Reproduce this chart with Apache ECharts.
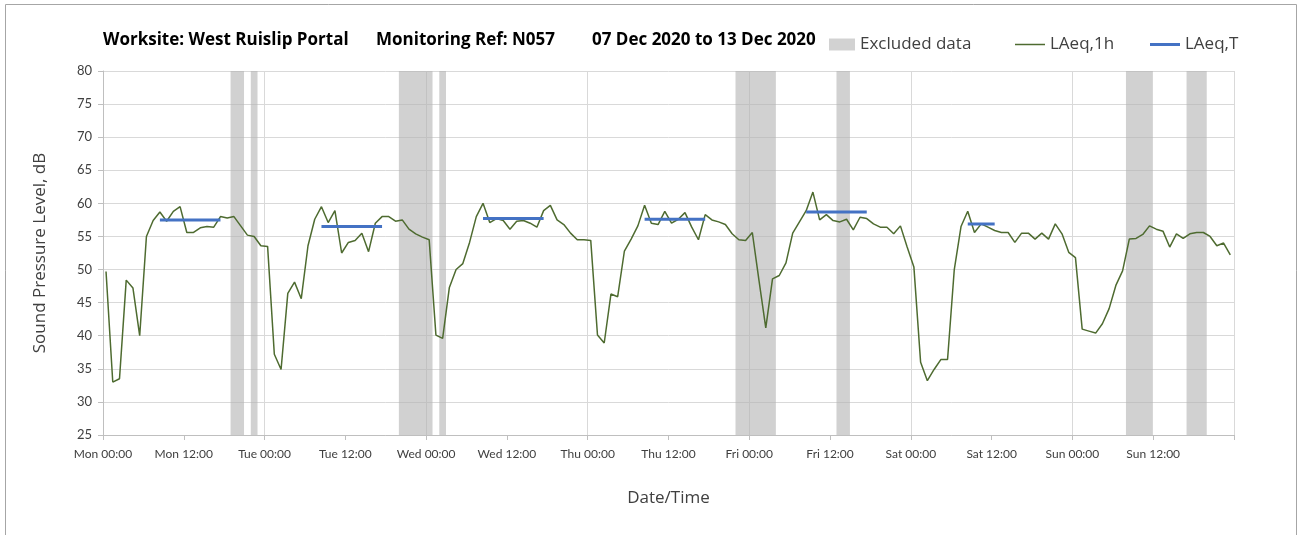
<!DOCTYPE html>
<html><head><meta charset="utf-8">
<script src="https://cdn.jsdelivr.net/npm/echarts@6/dist/echarts.min.js"></script>
<style>html,body{margin:0;padding:0;background:#fff}#c{width:1304px;height:535px}</style>
</head><body><div id="c"></div>
<script>
// x tick labels, every 12 hours from Mon 00:00 (hour 0) to hour 168
const xTickLabels = ['Mon 00:00','Mon 12:00','Tue 00:00','Tue 12:00','Wed 00:00','Wed 12:00','Thu 00:00','Thu 12:00','Fri 00:00','Fri 12:00','Sat 00:00','Sat 12:00','Sun 00:00','Sun 12:00',''];

// LAeq,1h hourly values, hour 0 (Mon 00:00) .. hour 167 (Sun 23:00)
const laeq1h = [
 49.7,33.0,33.5,48.4,47.2,40.0,55.0,57.4,58.7,57.3,58.8,59.5,55.6,55.6,56.3,56.5,56.4,58.0,57.8,58.0,56.6,55.2,55.0,53.6,
 53.5,37.2,34.9,46.4,48.1,45.6,53.6,57.6,59.5,57.1,58.9,52.5,54.1,54.4,55.5,52.7,57.0,58.0,58.0,57.3,57.5,56.1,55.4,54.9,
 54.5,40.1,39.6,47.3,50.0,50.9,54.1,58.0,60.0,57.1,57.7,57.4,56.1,57.3,57.4,57.0,56.4,58.9,59.7,57.5,56.8,55.5,54.5,54.5,
 54.4,40.1,38.9,46.3,45.9,52.8,54.6,56.6,59.7,57.0,56.8,58.8,57.0,57.6,58.6,56.4,54.5,58.3,57.5,57.2,56.8,55.4,54.5,54.4,
 55.6,48.3,41.2,48.6,49.1,51.0,55.5,57.2,58.9,61.7,57.5,58.3,57.4,57.2,57.6,56.0,57.9,57.7,56.9,56.4,56.4,55.4,56.6,53.4,
 50.4,36.0,33.2,34.9,36.4,36.4,50.0,56.5,58.8,55.6,56.9,56.4,55.9,55.6,55.6,54.1,55.5,55.5,54.6,55.5,54.6,56.9,55.4,52.6,
 51.8,41.0,40.7,40.4,41.8,44.1,47.6,49.8,54.6,54.7,55.3,56.6,56.1,55.8,53.4,55.4,54.7,55.4,55.6,55.6,55.0,53.6,54.0,52.2
];

// LAeq,T periods (first hour, last hour, level)
const laeqTStart = [8, 32, 56, 80, 104, 128];
const laeqTEnd   = [17, 41, 65, 89, 113, 132];
const laeqTValue = [57.5, 56.5, 57.7, 57.6, 58.7, 56.9];

// Excluded data periods (first excluded hour, hour after last excluded)
const excludedStart = [19, 22, 44, 50, 94, 109, 152, 161];
const excludedEnd   = [21, 23, 49, 51, 100, 111, 156, 164];

const OFF = 0.45; // hourly value plotted near the middle of its hour
const FONT = 'Lato, "Open Sans", sans-serif';
const FONT2 = '"Open Sans", Lato, sans-serif';

const lineData = laeq1h.map((v, i) => [i + OFF, v]);
const tData = [];
laeqTStart.forEach((s, k) => {
  tData.push([s + OFF, laeqTValue[k]]);
  tData.push([laeqTEnd[k] + OFF, laeqTValue[k]]);
  tData.push([laeqTEnd[k] + OFF + 1, '-']);
});
const exData = excludedStart.map((s, k) => [s + OFF - 0.5, excludedEnd[k] + OFF - 0.5]);

const titleStyle = {fontSize: 17, fontWeight: 'bold', color: '#000', fontFamily: FONT2};
const legendText = {fontSize: 17, color: '#404040', fontFamily: FONT2};

const chart = echarts.init(document.getElementById('c'), null, {renderer: 'canvas'});
chart.setOption({
  animation: false,
  backgroundColor: '#fff',
  textStyle: {fontFamily: FONT},
  graphic: [{
    type: 'rect', silent: true, z: -10,
    shape: {x: 5.5, y: 4.5, width: 1291, height: 560},
    style: {fill: null, stroke: '#a6a6a6', lineWidth: 1}
  }],
  title: [
    {text: 'Worksite: West Ruislip Portal', left: 103, top: 32, padding: 0, textStyle: titleStyle},
    {text: 'Monitoring Ref: N057', left: 376, top: 32, padding: 0, textStyle: titleStyle},
    {text: '07 Dec 2020 to 13 Dec 2020', left: 592, top: 32, padding: 0, textStyle: titleStyle}
  ],
  legend: [
    {left: 829, top: 36, itemWidth: 26, itemHeight: 12, padding: 0, textStyle: legendText,
     data: [{name: 'Excluded data', icon: 'rect', itemStyle: {color: '#d2d2d2'}}]},
    {left: 1015, top: 36, itemWidth: 30, itemHeight: 1.5, padding: 0, textStyle: legendText,
     data: [{name: 'LAeq,1h', icon: 'rect', itemStyle: {color: '#4e6b30'}}]},
    {left: 1150, top: 36, itemWidth: 30, itemHeight: 3, padding: 0, textStyle: legendText,
     data: [{name: 'LAeq,T', icon: 'rect', itemStyle: {color: '#4472c4'}}]}
  ],
  grid: {left: 103, right: 70, top: 71, bottom: 100, containLabel: false},
  xAxis: [
    {
      type: 'value', min: 0, max: 168, interval: 12,
      name: 'Date/Time', nameLocation: 'middle', nameGap: 55,
      nameTextStyle: {fontSize: 17, color: '#404040', fontFamily: FONT2},
      axisLine: {show: true, onZero: false, lineStyle: {color: '#bfbfbf', width: 1}},
      axisTick: {show: true, length: 5, lineStyle: {color: '#bfbfbf'}},
      axisLabel: {fontSize: 12, color: '#404040', margin: 13, fontFamily: FONT,
        formatter: v => xTickLabels[Math.round(v / 12)] || '', showMaxLabel: true, showMinLabel: true},
      splitLine: {show: false}
    },
    {
      type: 'value', min: 0, max: 168, interval: 24, position: 'bottom',
      axisLine: {show: false}, axisTick: {show: false}, axisLabel: {show: false},
      splitLine: {show: true, lineStyle: {color: '#d9d9d9', width: 1}}
    }
  ],
  yAxis: {
    type: 'value', min: 25, max: 80, interval: 5,
    name: 'Sound Pressure Level, dB', nameLocation: 'middle', nameGap: 54, nameRotate: 90,
    nameTextStyle: {fontSize: 17, color: '#404040', fontFamily: FONT2},
    axisLine: {show: true, lineStyle: {color: '#bfbfbf', width: 1}},
    axisTick: {show: true, length: 5, lineStyle: {color: '#bfbfbf'}},
    axisLabel: {fontSize: 13, color: '#404040', margin: 11, fontFamily: FONT},
    splitLine: {show: true, lineStyle: {color: '#d9d9d9', width: 1}}
  },
  series: [
    {
      name: 'Excluded data', type: 'custom', xAxisIndex: 0, yAxisIndex: 0, silent: true, z: 1,
      data: exData, encode: {x: [0, 1]},
      itemStyle: {color: '#d2d2d2'},
      renderItem: (params, api) => {
        const x0 = api.coord([api.value(0), 25])[0];
        const x1 = api.coord([api.value(1), 25])[0];
        const cs = params.coordSys;
        return {type: 'rect', shape: {x: x0, y: cs.y, width: x1 - x0, height: cs.height},
                style: {fill: 'rgba(178,178,178,0.6)'}};
      }
    },
    {
      name: 'LAeq,1h', type: 'line', xAxisIndex: 0, data: lineData, symbol: 'none', z: 3,
      lineStyle: {color: '#4e6b30', width: 1.5}, itemStyle: {color: '#4e6b30'}
    },
    {
      name: 'LAeq,T', type: 'line', xAxisIndex: 0, data: tData, symbol: 'none', z: 4, connectNulls: false,
      lineStyle: {color: '#4472c4', width: 3}, itemStyle: {color: '#4472c4'}
    }
  ]
});
</script>
</body></html>
